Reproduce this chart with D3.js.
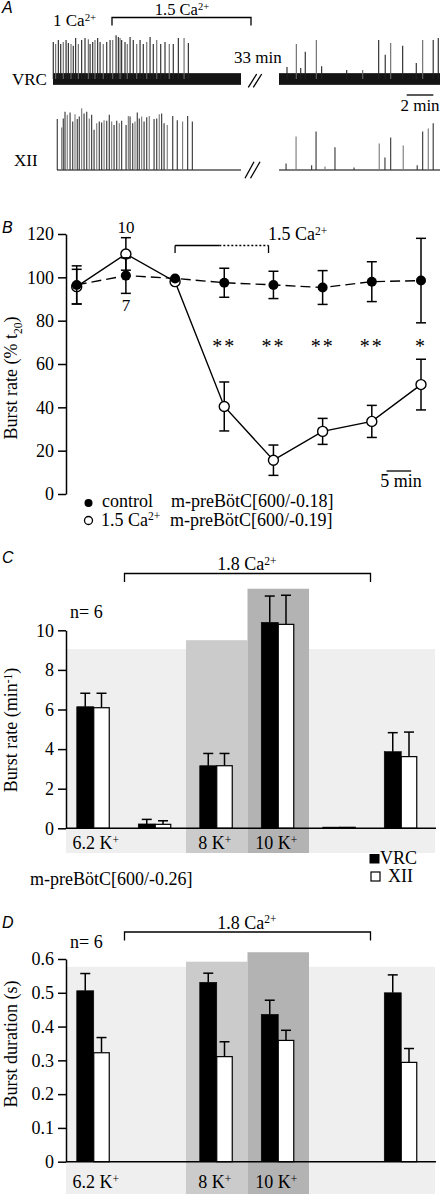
<!DOCTYPE html>
<html><head><meta charset="utf-8">
<script src="https://cdn.jsdelivr.net/npm/d3@7"></script>
<style>
body{margin:0;background:#fff}
svg text{font-family:"Liberation Serif","Times New Roman",serif;fill:#000}
</style>
</head><body>
<svg id="c" width="441" height="1194"></svg>
<script>
// ================= DATA =================
// Panel A: spike times (min from segment start) and relative amplitudes (a.u.)
const vrcLeftTimes = [0.02,0.20,0.40,0.58,0.77,0.98,1.15,1.35,1.52,1.70,1.90,2.15,2.40,2.65,2.78,2.98,3.15,3.35,3.53,3.77,4.03,4.28,4.48,4.73,4.90,5.03,5.15,5.40,5.57,5.78,6.02,6.28,6.53,6.77,7.03,7.28,7.52,7.78,8.08,8.40,8.72,9.02,9.40,9.83,10.15];
const vrcLeftAmps  = [0.95,0.90,1.00,0.90,0.95,1.00,0.92,0.90,0.85,1.05,0.90,1.00,1.05,1.02,0.90,0.95,1.00,1.05,0.95,0.90,0.95,1.00,1.00,1.12,1.08,1.05,1.00,0.95,0.90,1.08,1.00,0.90,1.00,0.90,0.95,1.08,0.90,1.00,0.90,0.95,0.90,0.90,1.05,1.05,0.92];
const vrcRightTimes = [0.60,1.30,1.63,1.97,2.80,3.20,5.08,6.28,7.48,7.97,8.38,9.28,10.30,10.78,11.57,11.95];
const vrcRightAmps  = [0.31,0.90,0.28,0.70,1.00,0.33,0.23,0.23,1.00,0.62,0.92,0.85,0.41,1.00,1.00,1.05];
const xiiLeftTimes = [0.32,0.65,0.77,0.90,1.07,1.28,1.48,1.65,1.82,1.97,2.15,2.33,2.53,2.72,2.90,3.08,3.28,3.47,3.65,3.83,4.03,4.22,4.40,4.58,4.78,4.97,5.15,5.48,5.65,5.78,5.98,6.15,6.32,6.47,6.65,6.83,7.03,7.22,7.58,7.78,7.97,8.15,8.33,8.57,8.98,9.32,9.72,10.10,10.45];
const xiiLeftAmps  = [0.85,0.71,0.86,0.97,0.92,0.96,0.81,0.93,0.85,0.89,1.03,0.94,0.97,0.86,0.92,0.67,0.78,0.81,0.79,0.83,0.82,0.92,0.81,0.75,0.82,0.78,0.82,0.75,0.90,0.89,0.78,0.81,0.96,0.86,0.89,0.81,0.88,0.90,0.85,0.86,0.93,0.94,0.78,0.75,0.90,0.83,0.81,0.90,0.81];
const xiiRightTimes = [0.53,1.28,2.45,2.78,3.45,4.20,5.63,7.52,7.95,8.38,9.32,10.37,10.78,11.20,11.57];
const xiiRightAmps  = [0.11,0.56,0.08,0.64,0.06,0.38,0.04,0.44,0.21,0.54,0.41,0.08,0.64,0.69,0.78];
const segLeftDur = 14.1, segRightDur = 12.08, xiiLeftStart = 0.3, vrcNoise = 0.15;

// Panel B
const timePoints  = [-20,-10,0,10,20,30,40,50];
const controlMean = [96.5,100.8,99.5,97.5,96.5,95.3,98,98.5];
const controlSem  = [8.8,8.2,0,6.7,6.3,7.8,9.2,19.5];
const caMean      = [95.7,110.8,98,40.4,15.6,28.9,33.5,50.5];
const caSem       = [8,7.5,0,11.3,7,6,7.4,11.7];
const sigLabels   = ["","","","**","**","**","**","*"];
const bTicks      = [0,20,40,60,80,100,120];

// Panels C & D
const groups      = ["ctl","ca","k8","k10","wash1","wash2"];
const groupLabels = ["6.2 K","","8 K","10 K","",""];
const rateVRC     = [6.14,0.22,3.16,10.4,0.06,3.87];
const rateVRCErr  = [0.68,0.23,0.62,1.33,0,0.96];
const rateXII     = [6.09,0.20,3.16,10.3,0.05,3.62];
const rateXIIErr  = [0.73,0.18,0.62,1.47,0,1.24];
const cTicks      = [0,2,4,6,8,10];
const cShade      = [9.05,9.5,12.1];   // light, 8K, 10K background tops
const durVRC      = [0.506,null,0.531,0.436,null,0.500];
const durVRCErr   = [0.051,null,0.027,0.042,null,0.053];
const durXII      = [0.3225,null,0.311,0.359,null,0.294];
const durXIIErr   = [0.045,null,0.044,0.030,null,0.041];
const dTicks      = [0,0.1,0.2,0.3,0.4,0.5,0.6];
const dShade      = [0.577,0.592,0.62];

// ================= HELPERS =================
const svg = d3.select("#c");
const SANS = '"Liberation Sans",Arial,sans-serif';
function rich(parent, x, y, parts, size, anchor){
  const t = parent.append("text").attr("x",x).attr("y",y).attr("font-size",size)
    .attr("text-anchor",anchor||"start");
  let cur = 0;
  parts.forEach(p=>{
    const o = typeof p === "string" ? {t:p} : p;
    const want = o.sup ? -size*0.3 : o.sub ? size*0.25 : 0;
    const ts = t.append("tspan").text(o.t);
    if (want !== cur) ts.attr("dy", want-cur);
    if (o.sup || o.sub) ts.attr("font-size", size*0.64);
    cur = want;
  });
  return t;
}
function panelLetter(x,y,s){
  svg.append("text").attr("x",x).attr("y",y).attr("font-size",16)
    .attr("font-style","italic").style("font-family",SANS).text(s);
}
function line(g,x1,y1,x2,y2,w,dash){
  const l = g.append("line").attr("x1",x1).attr("y1",y1).attr("x2",x2).attr("y2",y2)
    .attr("stroke","#000").attr("stroke-width",w||1.3);
  if (dash) l.attr("stroke-dasharray",dash);
  return l;
}
function bracket(g,x1,x2,y,drop){
  g.append("path").attr("d",`M${x1},${y+drop}V${y}H${x2}V${y+drop}`)
   .attr("fill","none").attr("stroke","#000").attr("stroke-width",1.3);
}
function yAxis(g,scale,ticks,fmt,x){
  const ax = g.append("g").attr("transform",`translate(${x},0)`)
    .call(d3.axisLeft(scale).tickValues(ticks).tickFormat(fmt).tickSize(8).tickPadding(4).tickSizeOuter(0));
  ax.selectAll("path,line").attr("stroke","#000").attr("stroke-width",1.5);
  ax.selectAll("text").attr("font-size",18).style("font-family",'"Liberation Serif",serif');
  return ax;
}

// ================= PANEL A =================
const gA = svg.append("g");
panelLetter(2,13,"A");
const tL = d3.scaleLinear().domain([0,segLeftDur]).range([53,241]);
const tR = d3.scaleLinear().domain([0,segRightDur]).range([279,440]);
const vY = d3.scaleLinear().domain([0,1]).range([79,40]);
const xY = d3.scaleLinear().domain([0,1]).range([170,110]);

function vrcSeg(ts, amps, sc, dur){
  gA.append("rect").attr("x",sc(0)).attr("width",sc(dur)-sc(0))
    .attr("y",vY(vrcNoise)).attr("height",vY(-vrcNoise)-vY(vrcNoise)).attr("fill","#141414");
  gA.append("g").selectAll("line").data(ts).join("line")
    .attr("x1",d=>sc(d)).attr("x2",d=>sc(d))
    .attr("y1",vY(0)).attr("y2",(d,i)=>vY(amps[i]))
    .attr("stroke",(d,i)=>i%3===1?"#666":"#222").attr("stroke-width",1.1);
}
vrcSeg(vrcLeftTimes, vrcLeftAmps, tL, segLeftDur);
vrcSeg(vrcRightTimes, vrcRightAmps, tR, segRightDur);

function xiiSeg(ts, amps, sc, t0, dur){
  line(gA, sc(t0), xY(0), sc(dur), xY(0), 1.2);
  gA.append("g").selectAll("line").data(ts).join("line")
    .attr("x1",d=>sc(d)).attr("x2",d=>sc(d))
    .attr("y1",xY(0)).attr("y2",(d,i)=>xY(amps[i]))
    .attr("stroke",(d,i)=>i%3===1?"#777":"#333").attr("stroke-width",1.1);
}
xiiSeg(xiiLeftTimes, xiiLeftAmps, tL, xiiLeftStart, segLeftDur);
xiiSeg(xiiRightTimes, xiiRightAmps, tR, 0, segRightDur);

// labels & annotations
gA.append("text").attr("x",12).attr("y",85).attr("font-size",17).text("VRC");
gA.append("text").attr("x",14).attr("y",166).attr("font-size",17).text("XII");
rich(gA,53,26,["1 Ca",{t:"2+",sup:true}],17);
rich(gA,182,15,["1.5 Ca",{t:"2+",sup:true}],16.5,"middle");
bracket(gA,112,251,17.5,8);
gA.append("text").attr("x",234).attr("y",63).attr("font-size",17).text("33 min");
[[248.3,87.3,256.7,74],[253.3,87.3,261.7,74],[245,178.3,254,161.7],[250.5,178.3,260,161.7]]
  .forEach(c=>line(gA,c[0],c[1],c[2],c[3],1.3));
line(gA,tR(9.58),95,tR(11.58),95,1.3);
gA.append("text").attr("x",tR(10.58)).attr("y",111).attr("font-size",17)
  .attr("text-anchor","middle").text("2 min");

// ================= PANEL B =================
const gB = svg.append("g");
panelLetter(2,233,"B");
const xB = d3.scaleLinear().domain([-20,50]).range([76.7,421]);
const yB = d3.scaleLinear().domain([0,120]).range([494,234]);
yAxis(gB,yB,bTicks,d3.format("d"),66);
const byLabel = gB.append("g").attr("transform","translate(17,378) rotate(-90)");
rich(byLabel,0,0,["Burst rate (% t",{t:"20",sub:true},")"],18,"middle");

// bracket 1.5 Ca
line(gB,xB(0),245.5,xB(0),253,1.3);
line(gB,xB(0),245.5,xB(9),245.5,1.3);
line(gB,xB(9),245.5,xB(19),245.5,1.3,"2,2");
line(gB,xB(19),245.5,xB(19),253,1.3);
rich(gB,268,240,["1.5 Ca",{t:"2+",sup:true}],18);

function errBars(g,means,sems){
  timePoints.forEach((t,i)=>{
    if(!sems[i]) return;
    const x=xB(t), y1=yB(means[i]-sems[i]), y2=yB(means[i]+sems[i]);
    line(g,x,y1,x,y2,1.5); line(g,x-5,y1,x+5,y1,1.5); line(g,x-5,y2,x+5,y2,1.5);
  });
}
const lineGen = d3.line().x(d=>xB(d[0])).y(d=>yB(d[1]));
errBars(gB,caMean,caSem);
gB.append("path").attr("d",lineGen(timePoints.map((t,i)=>[t,caMean[i]])))
  .attr("fill","none").attr("stroke","#000").attr("stroke-width",1.4);
gB.append("g").selectAll("circle").data(timePoints).join("circle")
  .attr("cx",d=>xB(d)).attr("cy",(d,i)=>yB(caMean[i])).attr("r",5)
  .attr("fill","#fff").attr("stroke","#000").attr("stroke-width",1.4);
errBars(gB,controlMean,controlSem);
gB.append("path").attr("d",lineGen(timePoints.map((t,i)=>[t,controlMean[i]])))
  .attr("fill","none").attr("stroke","#000").attr("stroke-width",1.4).attr("stroke-dasharray","10,5");
gB.append("g").selectAll("circle").data(timePoints).join("circle")
  .attr("cx",d=>xB(d)).attr("cy",(d,i)=>yB(controlMean[i])).attr("r",5).attr("fill","#000");
gB.append("g").selectAll("text").data(timePoints).join("text")
  .attr("x",d=>xB(d)).attr("y",353).attr("font-size",20).attr("letter-spacing",2)
  .attr("text-anchor","middle").text((d,i)=>sigLabels[i]);
gB.append("text").attr("x",xB(-10)).attr("y",233).attr("font-size",17).attr("text-anchor","middle").text("10");
gB.append("text").attr("x",xB(-10)).attr("y",311).attr("font-size",17).attr("text-anchor","middle").text("7");
// 5 min scale bar
line(gB,xB(43),471,xB(48),471,1.3);
gB.append("text").attr("x",401).attr("y",487).attr("font-size",18).attr("text-anchor","middle").text("5 min");
// legend
gB.append("circle").attr("cx",88.5).attr("cy",503).attr("r",4).attr("fill","#000");
gB.append("circle").attr("cx",88.5).attr("cy",520.5).attr("r",4).attr("fill","#fff").attr("stroke","#000").attr("stroke-width",1.3);
gB.append("text").attr("x",102).attr("y",507).attr("font-size",18).text("control");
rich(gB,101,525.5,["1.5 Ca",{t:"2+",sup:true}],18);
gB.append("text").attr("x",171).attr("y",507).attr("font-size",18).text("m-preBötC[600/-0.18]");
gB.append("text").attr("x",170).attr("y",525.5).attr("font-size",18).text("m-preBötC[600/-0.19]");

// ================= PANELS C & D =================
const xG = d3.scaleBand().domain(groups).range([63,432]).paddingInner(0);
function barPanel(o){
  const g = svg.append("g");
  panelLetter(2,o.letterY,o.letter);
  const y = d3.scaleLinear().domain(o.domain).range([o.y0,o.y1]);
  const axX0 = 66, axX1 = 436;
  const bw = xG.bandwidth();
  g.append("rect").attr("x",axX0).attr("width",xG("ca")+bw-axX0)
    .attr("y",y(o.shade[0])).attr("height",o.shadeBottom-y(o.shade[0])).attr("fill","#efefef");
  g.append("rect").attr("x",xG("wash1")).attr("width",axX1-1-xG("wash1"))
    .attr("y",y(o.shade[0])).attr("height",o.shadeBottom-y(o.shade[0])).attr("fill","#efefef");
  g.append("rect").attr("x",xG("k8")).attr("width",bw)
    .attr("y",y(o.shade[1])).attr("height",o.shadeBottom-y(o.shade[1])).attr("fill","#cbcbcb");
  g.append("rect").attr("x",xG("k10")).attr("width",bw)
    .attr("y",y(o.shade[2])).attr("height",o.shadeBottom-y(o.shade[2])).attr("fill","#b3b3b3");
  const c = d=>xG(d)+bw/2;
  groups.forEach((gr,i)=>{
    const cx = c(gr);
    [[o.vrc,o.vrcErr,cx-17,17,"#000"],[o.xii,o.xiiErr,cx,15.5,"#fff"]].forEach(([v,e,x,w,fill])=>{
      if(v[i]==null) return;
      if(e[i]){
        const yt=y(v[i]+e[i]);
        line(g,x+w/2,y(v[i]),x+w/2,yt,1.5);
        line(g,x+w/2-5,yt,x+w/2+5,yt,1.5);
      }
      g.append("rect").attr("x",x).attr("width",w).attr("y",y(v[i])).attr("height",y(0)-y(v[i]))
        .attr("fill",fill).attr("stroke","#000").attr("stroke-width",fill==="#fff"?1.2:0.6);
    });
  });
  yAxis(g,y,o.ticks,o.fmt,axX0);
  line(g,axX0,y(0),axX1,y(0),1.5);
  groups.forEach((gr,i)=>{
    if(!groupLabels[i]) return;
    rich(g,c(gr)+(i===0?2:-2),o.labY,[groupLabels[i],{t:"+",sup:true}],18,"middle");
  });
  bracket(g,xG("ca"),xG("wash1")+bw,o.brY,8.5);
  rich(g,247,o.brY-3.5,["1.8 Ca",{t:"2+",sup:true}],18,"middle");
  g.append("text").attr("x",70).attr("y",o.nY).attr("font-size",18).text("n= 6");
  const lab = g.append("g").attr("transform",`translate(17,${o.labelCY}) rotate(-90)`);
  rich(lab,0,0,o.ylabel,18,"middle");
  return g;
}
const gC = barPanel({letter:"C",letterY:563,domain:[0,10],y0:828.3,y1:630.3,
  shade:cShade,shadeBottom:853,vrc:rateVRC,vrcErr:rateVRCErr,xii:rateXII,xiiErr:rateXIIErr,
  ticks:cTicks,fmt:d3.format("d"),labY:849,brY:573.5,nY:618,labelCY:730,
  ylabel:["Burst rate (min",{t:"-1",sup:true},")"]});
gC.append("rect").attr("x",369.5).attr("y",854).attr("width",10).attr("height",9.5).attr("fill","#000");
gC.append("text").attr("x",380).attr("y",863.5).attr("font-size",18).text("VRC");
gC.append("rect").attr("x",371).attr("y",872).attr("width",9).attr("height",9)
  .attr("fill","#fff").attr("stroke","#000").attr("stroke-width",1.2);
gC.append("text").attr("x",388).attr("y",882).attr("font-size",18).text("XII");
gC.append("text").attr("x",30).attr("y",885).attr("font-size",18).text("m-preBötC[600/-0.26]");

barPanel({letter:"D",letterY:928,domain:[0,0.6],y0:1161.7,y1:959,
  shade:dShade,shadeBottom:1194,vrc:durVRC,vrcErr:durVRCErr,xii:durXII,xiiErr:durXIIErr,
  ticks:dTicks,fmt:d=>d===0?"0":d3.format(".1f")(d),labY:1188,brY:932,nY:948,labelCY:1044,
  ylabel:["Burst duration (s)"]});
</script>
</body></html>
